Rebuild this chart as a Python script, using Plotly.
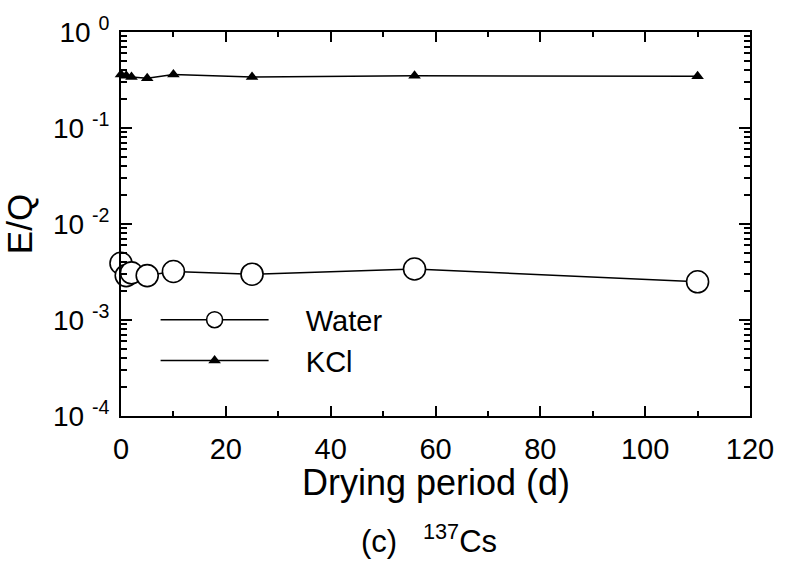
import plotly.graph_objects as go

# ---- data ----
days = [0, 1, 2, 5, 10, 25, 56, 110]
water = [0.0039, 0.0029, 0.0031, 0.0029, 0.0032, 0.0030, 0.0034, 0.0025]
kcl = [0.36, 0.35, 0.34, 0.33, 0.36, 0.34, 0.35, 0.345]
series_names = ["Water", "KCl"]

x_ticks = [0, 20, 40, 60, 80, 100, 120]
y_tickvals = [1e-4, 1e-3, 1e-2, 1e-1, 1]
y_ticktext = ["10 <sup>-4</sup>", "10 <sup>-3</sup>", "10 <sup>-2</sup>", "10 <sup>-1</sup>", "10 <sup>0</sup>"]
y_minor = [m * 10.0 ** e for e in range(-4, 0) for m in range(2, 10)]

FONT = "Liberation Sans, Arial, Helvetica, sans-serif"
PAD = "\u00a0" * 4

fig = go.Figure()
fig.add_trace(go.Scatter(
    x=days, y=water, name=PAD + series_names[0], mode="lines+markers",
    line=dict(color="black", width=1.5),
    marker=dict(symbol="circle", size=22, color="white",
                line=dict(color="black", width=1.6)),
    cliponaxis=False,
))
fig.add_trace(go.Scatter(
    x=days, y=kcl, name=PAD + series_names[1], mode="lines+markers",
    line=dict(color="black", width=1.5),
    marker=dict(symbol="triangle-up", size=11, color="black"),
    cliponaxis=False,
))

fig.update_layout(
    width=786, height=570,
    margin=dict(l=121, r=33, t=27, b=154),
    paper_bgcolor="white", plot_bgcolor="white",
    font=dict(family=FONT, color="black"),
    showlegend=True,
    legend=dict(
        x=0.055, y=0.197, xanchor="left", yanchor="middle",
        bgcolor="rgba(0,0,0,0)", borderwidth=0,
        font=dict(size=29, family=FONT, color="black"),
        itemwidth=108, traceorder="normal",
    ),
    annotations=[
        dict(
            text="Drying period (d)", x=0.5, y=-0.115,
            xref="paper", yref="paper", xanchor="center", yanchor="top",
            showarrow=False, font=dict(size=36, family=FONT, color="black"),
        ),
        dict(
            text="(c)   <sup>137</sup>Cs", x=0.489, y=-0.32,
            xref="paper", yref="paper", xanchor="center", yanchor="middle",
            showarrow=False, font=dict(size=31, family=FONT, color="black"),
        ),
    ],
)

fig.update_xaxes(
    range=[0, 120], tickvals=x_ticks,
    ticks="inside", ticklen=10, tickwidth=1.5, tickcolor="black",
    minor=dict(ticks="inside", ticklen=5, tickwidth=1.5, tickcolor="black", dtick=10),
    showline=True, linecolor="black", linewidth=2, mirror="ticks",
    showgrid=False, zeroline=False,
    ticklabelstandoff=6,
    tickfont=dict(size=29, family=FONT, color="black"),
)
fig.update_yaxes(
    type="log", range=[-4, 0], tickvals=y_tickvals, ticktext=y_ticktext,
    ticks="inside", ticklen=11, tickwidth=1.5, tickcolor="black",
    minor=dict(ticks="inside", ticklen=6, tickwidth=1.5, tickcolor="black", tickvals=y_minor),
    showline=True, linecolor="black", linewidth=2, mirror="ticks",
    showgrid=False, zeroline=False,
    ticklabelstandoff=4,
    tickfont=dict(size=28, family=FONT, color="black"),
    title=dict(text="E/Q", font=dict(size=35, family=FONT, color="black"), standoff=12),
)

fig.write_html("out.html")
